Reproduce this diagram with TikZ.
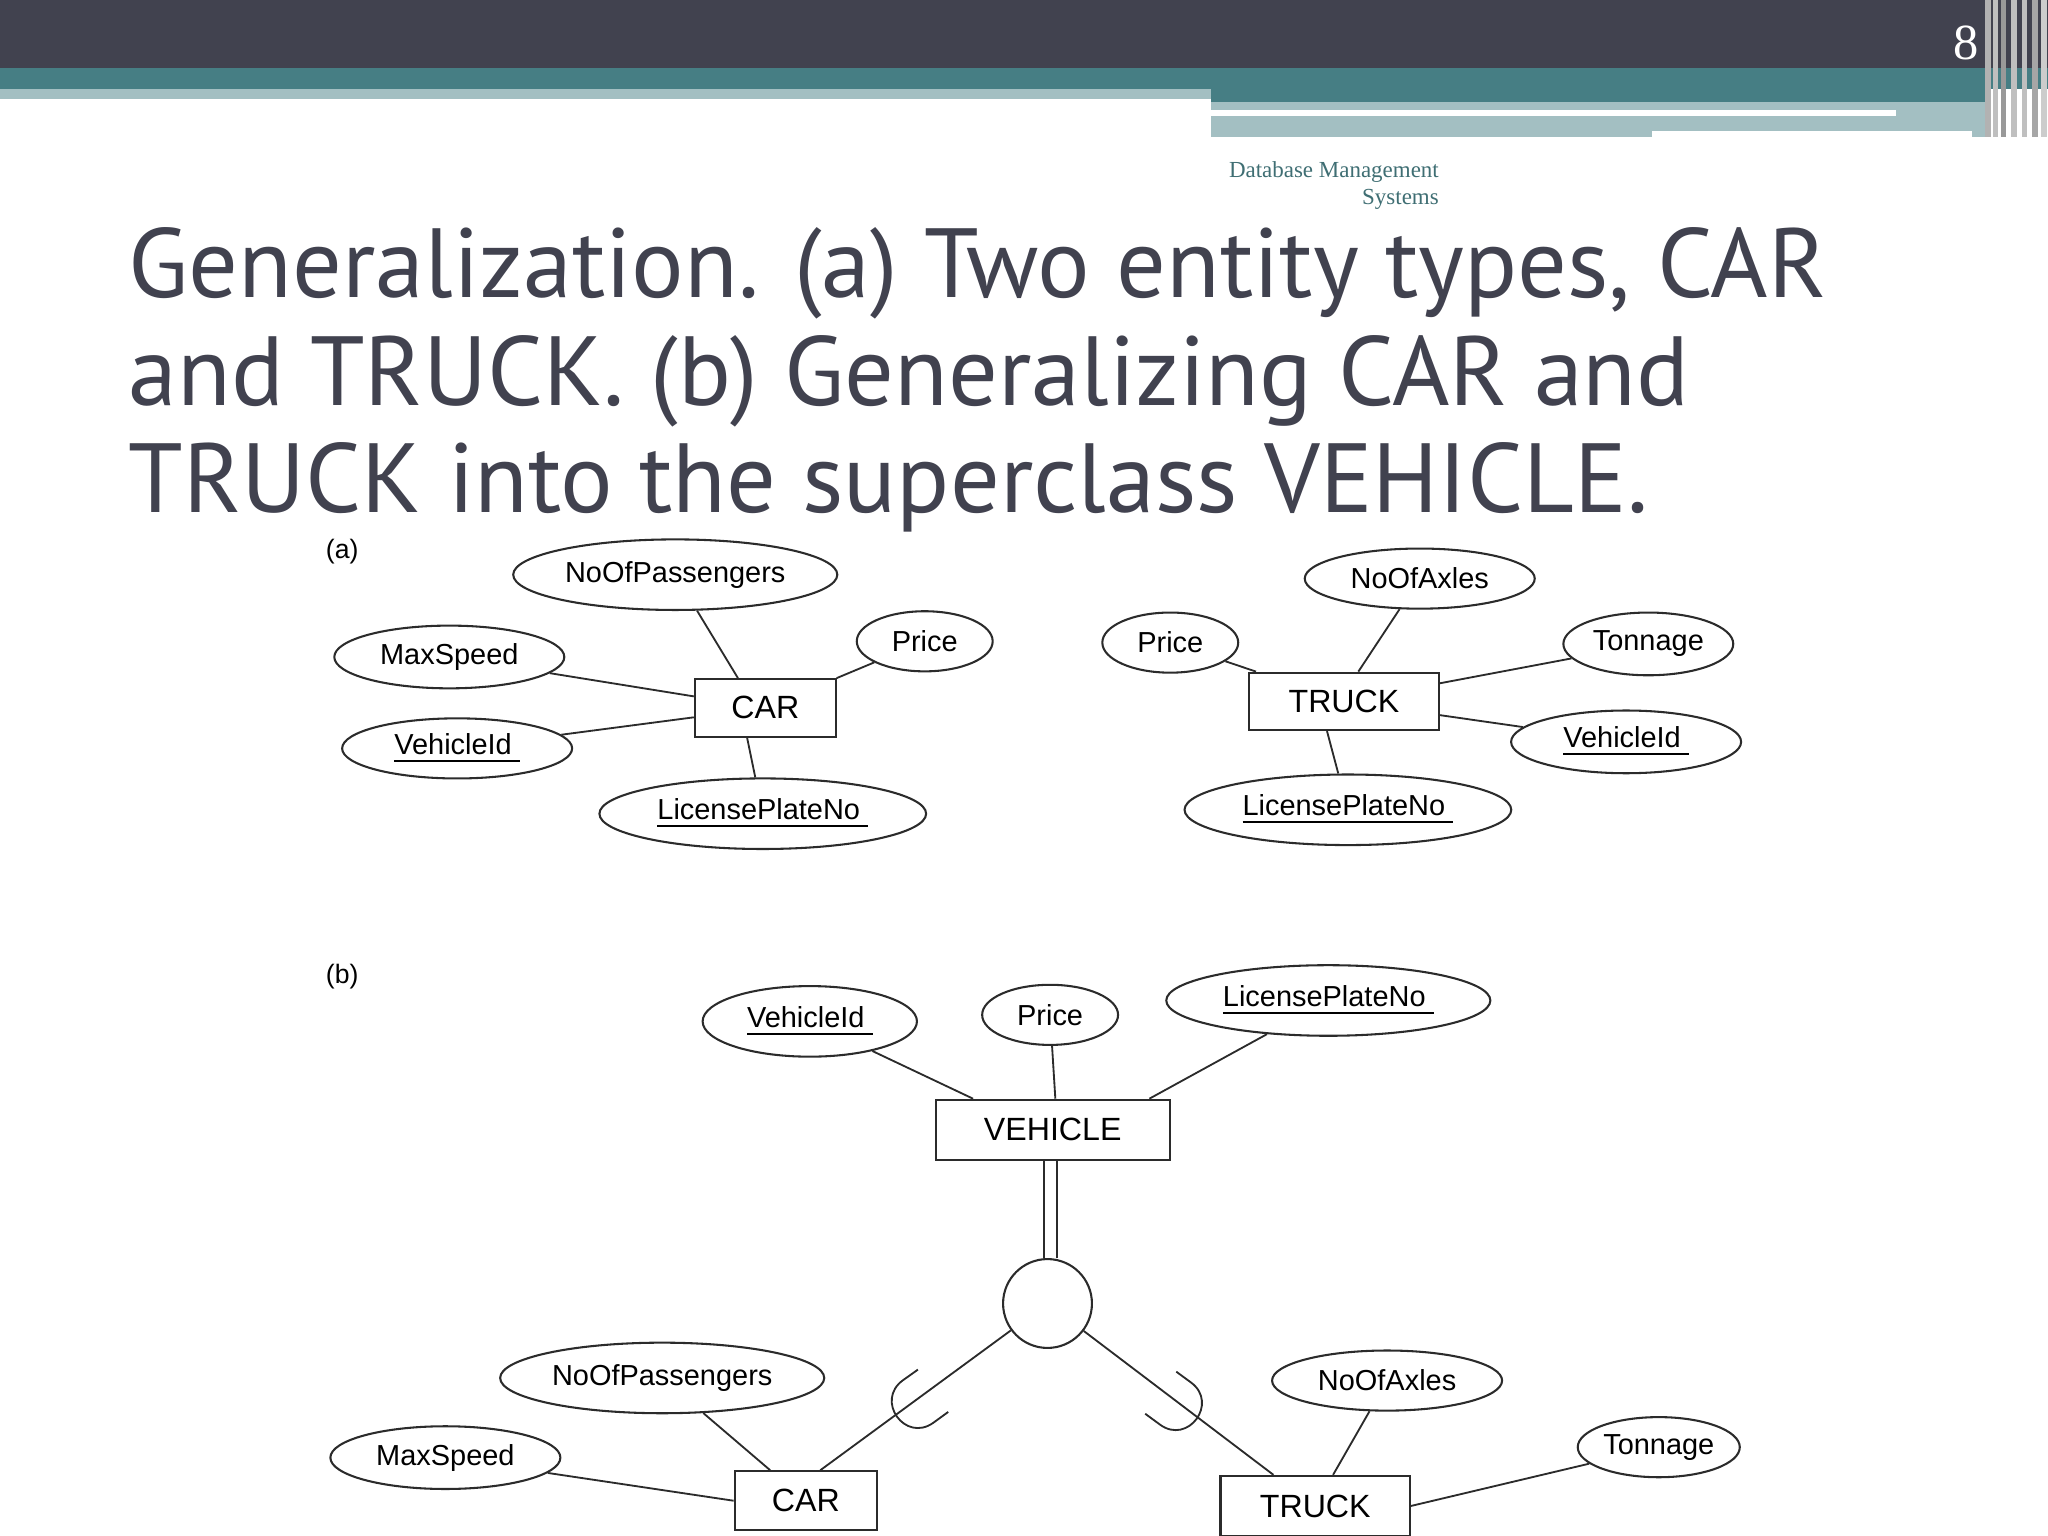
\documentclass[tikz,border=0pt]{standalone}
\usepackage{fontspec}
\setmainfont{Liberation Sans}
\newfontfamily\titlefont{PT Sans}
\newfontfamily\hdrfont{Liberation Serif}
\usetikzlibrary{shapes.geometric}
\definecolor{darkbar}{HTML}{41424F}
\definecolor{tealbar}{HTML}{467E84}
\definecolor{lightbar}{HTML}{A3BFC2}
\definecolor{titlecol}{HTML}{41424F}
\definecolor{hdrcol}{HTML}{3F6E73}
\definecolor{ink}{HTML}{2B2B2B}
\tikzset{
 attr/.style={ellipse,draw=ink,line width=0.45pt,inner sep=0pt,font=\fontsize{6.3pt}{7pt}\selectfont},
 ent/.style={rectangle,draw=ink,line width=0.45pt,inner sep=0pt,font=\fontsize{7pt}{8pt}\selectfont},
 conn/.style={draw=ink,line width=0.4pt},
}
\begin{document}
\begin{tikzpicture}[x=0.01cm,y=-0.01cm]
\useasboundingbox (0,0) rectangle (1568,1176);
% header
\fill[darkbar] (0,0) rectangle (1568,52);
\fill[tealbar] (0,52) rectangle (1568,68);
\fill[lightbar] (0,68) rectangle (927,76);
\fill[tealbar] (927,68) rectangle (1520,78);
\fill[lightbar] (927,78) rectangle (1520,105);
\fill[white] (927,84) rectangle (1452,89);
\fill[white] (1265,100) rectangle (1510,105);
\foreach \xx/\cc in {1520/gray!60,1526/lightgray,1532/gray!80,1540/gray!50,1548/lightgray,1556/gray!70,1563/gray!40}
  \fill[\cc] (\xx,0) rectangle ++(4,105);
\node[text=white,font=\hdrfont\fontsize{11pt}{12pt}\selectfont] (pg) at (1505,33) {8};
\node[anchor=north east,align=right,text=hdrcol,font=\hdrfont\fontsize{5pt}{5.9pt}\selectfont] (hdr) at (1114,111) {Database Management\\Systems};
% title
\node[anchor=north west,align=left,text=titlecol,font=\titlefont\fontsize{21.4pt}{23.4pt}\selectfont] (title) at (86,162)
 {Generalization. (a) Two entity types, CAR\\and TRUCK. (b) Generalizing CAR and\\TRUCK into the superclass VEHICLE.};
% (a)
\node[font=\fontsize{5.8pt}{7pt}\selectfont] (la) at (262,422) {(a)};
\node[ent,minimum width=1.08cm,minimum height=0.44cm] (car) at (586,542) {CAR};
\node[attr,minimum width=2.48cm,minimum height=0.54cm] (a1) at (517,440) {NoOfPassengers};
\node[attr,minimum width=1.76cm,minimum height=0.48cm] (a2) at (344,503) {MaxSpeed};
\node[attr,minimum width=1.76cm,minimum height=0.46cm] (a3) at (350,573) {\underline{VehicleId\ }};
\node[attr,minimum width=1.04cm,minimum height=0.46cm] (a4) at (708,491) {Price};
\node[attr,minimum width=2.5cm,minimum height=0.54cm] (a5) at (584,623) {\underline{LicensePlateNo\ }};
\draw[conn] (car.north -| 565,0) -- (a1);
\draw[conn] (car.south -| 572,0) -- (a5);
\foreach \a in {a2,a3,a4} \draw[conn] (car) -- (\a);
\node[ent,minimum width=1.45cm,minimum height=0.44cm] (truck) at (1029,537) {TRUCK};
\node[attr,minimum width=1.76cm,minimum height=0.46cm] (t1) at (1087,443) {NoOfAxles};
\node[attr,minimum width=1.04cm,minimum height=0.46cm] (t2) at (896,492) {Price};
\node[attr,minimum width=1.3cm,minimum height=0.48cm] (t3) at (1262,493) {Tonnage};
\node[attr,minimum width=1.76cm,minimum height=0.48cm] (t4) at (1245,568) {\underline{VehicleId\ }};
\node[attr,minimum width=2.5cm,minimum height=0.54cm] (t5) at (1032,620) {\underline{LicensePlateNo\ }};
\draw[conn] (truck.south -| 1016,0) -- (t5);
\draw[conn] (truck.north -| 1040,0) -- (t1);
\foreach \a in {t2,t3,t4} \draw[conn] (truck) -- (\a);
% (b)
\node[font=\fontsize{5.8pt}{7pt}\selectfont] (lb) at (262,748) {(b)};
\node[ent,minimum width=1.79cm,minimum height=0.46cm] (veh) at (806,865) {VEHICLE};
\node[attr,minimum width=1.64cm,minimum height=0.54cm] (v1) at (620,782) {\underline{VehicleId\ }};
\node[attr,minimum width=1.04cm,minimum height=0.46cm] (v2) at (804,777) {Price};
\node[attr,minimum width=2.48cm,minimum height=0.54cm] (v3) at (1017,766) {\underline{LicensePlateNo\ }};
\draw[conn] (veh.north -| 745,0) -- (v1);
\draw[conn] (veh.north -| 808,0) -- (v2);
\draw[conn] (veh.north -| 880,0) -- (v3);
\node[circle,draw=ink,line width=0.45pt,minimum size=0.68cm,inner sep=0pt] (gc) at (802,998) {};
\draw[conn] (veh.south -| 799,0) -- (gc.north -| 799,0);
\draw[conn] (veh.south -| 809,0) -- (gc.north -| 809,0);
\node[ent,minimum width=1.09cm,minimum height=0.45cm] (car2) at (617,1149) {CAR};
\node[ent,minimum width=1.45cm,minimum height=0.46cm] (truck2) at (1007,1153) {TRUCK};
\draw[conn] (gc) -- (car2.north -| 628,0);
\draw[conn] (gc) -- (truck2.north -| 975,0);
% subset symbols
\draw[conn] (726,1081) -- (714.6,1089.3) .. controls (692.9,1104.8) and (669.7,1072.2) .. (691.4,1056.7) -- (702.8,1048.6);
\draw[conn] (876.8,1082.4) -- (888.1,1090.7) .. controls (909.5,1106.5) and (933.3,1074.3) .. (911.9,1058.5) -- (900.6,1050.2);
\node[attr,minimum width=2.48cm,minimum height=0.54cm] (c1) at (507,1055) {NoOfPassengers};
\node[attr,minimum width=1.76cm,minimum height=0.48cm] (c2) at (341,1116) {MaxSpeed};
\draw[conn] (car2) -- (c1);
\draw[conn] (car2.west) -- (c2);
\node[attr,minimum width=1.76cm,minimum height=0.46cm] (k1) at (1062,1057) {NoOfAxles};
\node[attr,minimum width=1.24cm,minimum height=0.46cm] (k2) at (1270,1108) {Tonnage};
\draw[conn] (truck2) -- (k1);
\draw[conn] (truck2.east) -- (k2);
\end{tikzpicture}
\end{document}
